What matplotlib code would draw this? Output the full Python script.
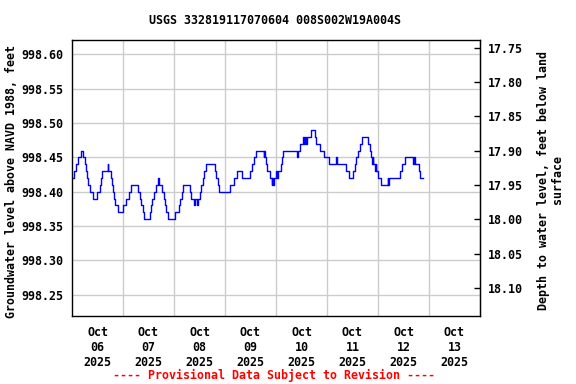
import matplotlib
matplotlib.use("Agg")
import matplotlib.pyplot as plt
import matplotlib.dates as mdates
import pandas as pd
import numpy as np

# ---- data: step change points (hours after 2025-10-06 00:00) and water level (ft NAVD88)
start = "2025-10-06 00:00"
hours = [0.0, 0.80, 2.07, 2.82, 4.33, 5.18, 6.21, 6.78, 7.25, 7.72, 8.66, 9.88,
         11.76, 13.04, 13.65, 14.31, 16.80, 17.13, 18.54, 19.01, 19.48, 19.95, 20.42, 21.5,
         24.0, 25.5, 26.9, 27.95, 31.06, 31.86, 32.66, 33.18, 33.74, 36.71, 37.18, 37.84,
         38.45, 39.39, 40.47, 40.80, 42.54, 43.15, 43.62, 44.33, 45.3, 48.33, 50.35, 50.92,
         51.62, 52.33, 55.39, 56.19, 57.51, 57.98, 59.01, 59.48, 60.09, 60.89, 61.65, 62.21,
         63.25, 67.15, 67.95, 68.71, 69.27, 74.21, 76.24, 77.65, 80.09, 83.86, 84.56, 85.51,
         86.68, 90.21, 90.54, 90.82, 91.39, 91.95, 93.04, 93.98, 94.31, 94.68, 95.25, 96.19,
         96.56, 97.03, 97.74, 98.21, 98.82, 99.29, 105.98, 106.35, 107.39, 108.56, 109.27,
         109.51, 110.21, 110.45, 112.66, 114.21, 114.92, 116.56, 118.45, 121.04, 124.42,
         124.89, 128.80, 130.35, 132.23, 133.04, 133.84, 134.59, 135.39, 136.66, 139.29,
         140.09, 140.89, 141.27, 141.51, 141.84, 142.45, 142.92, 143.15, 144.0, 145.6,
         148.56, 148.89, 149.27, 154.45, 155.39, 156.80, 160.47, 160.80, 161.27, 163.29,
         163.86, 165.18]
levels = [998.42, 998.43, 998.44, 998.45, 998.46, 998.45, 998.44, 998.43, 998.42, 998.41, 998.40, 998.39,
          998.40, 998.41, 998.42, 998.43, 998.44, 998.43, 998.42, 998.41, 998.40, 998.39, 998.38, 998.37,
          998.38, 998.39, 998.40, 998.41, 998.40, 998.39, 998.38, 998.37, 998.36, 998.37, 998.38, 998.39,
          998.40, 998.41, 998.42, 998.41, 998.40, 998.39, 998.38, 998.37, 998.36, 998.37, 998.38, 998.39,
          998.40, 998.41, 998.40, 998.39, 998.38, 998.39, 998.38, 998.39, 998.40, 998.41, 998.42, 998.43,
          998.44, 998.43, 998.42, 998.41, 998.40, 998.41, 998.42, 998.43, 998.42, 998.43, 998.44, 998.45,
          998.46, 998.45, 998.46, 998.45, 998.44, 998.43, 998.42, 998.41, 998.42, 998.41, 998.42, 998.43,
          998.42, 998.43, 998.43, 998.44, 998.45, 998.46, 998.45, 998.46, 998.47, 998.48, 998.47,
          998.48, 998.47, 998.48, 998.49, 998.48, 998.47, 998.46, 998.45, 998.44, 998.45,
          998.44, 998.43, 998.42, 998.43, 998.44, 998.45, 998.46, 998.47, 998.48, 998.47,
          998.46, 998.45, 998.44, 998.45, 998.44, 998.43, 998.44, 998.43, 998.42, 998.41,
          998.42, 998.41, 998.42, 998.43, 998.44, 998.45, 998.44, 998.45, 998.44, 998.43,
          998.42, 998.42]

left_ticks = [998.25, 998.30, 998.35, 998.40, 998.45, 998.50, 998.55, 998.60]
right_ticks = [17.75, 17.80, 17.85, 17.90, 17.95, 18.00, 18.05, 18.10]
day_labels = ["Oct\n06\n2025", "Oct\n07\n2025", "Oct\n08\n2025", "Oct\n09\n2025",
              "Oct\n10\n2025", "Oct\n11\n2025", "Oct\n12\n2025", "Oct\n13\n2025"]
land_surface = 1016.36

title = "USGS 332819117070604 008S002W19A004S"
ylabel_left = "Groundwater level above NAVD 1988, feet"
ylabel_right = "Depth to water level, feet below land\nsurface"
footer = "---- Provisional Data Subject to Revision ----"

FONT = "DejaVu Sans Mono"
FS = 8.4

t0 = pd.Timestamp(start)
times = [t0 + pd.Timedelta(hours=h) for h in hours]
tnum = mdates.date2num(times)

fig = plt.figure(figsize=(5.76, 3.84), dpi=100)
W, H = 576, 384
ax = fig.add_axes([72 / W, 1 - 316 / H, 408 / W, 276 / H])

ax.step(tnum, levels, where="post", color="#0000ff", lw=1.0)

xmin = mdates.date2num(t0)
xmax = mdates.date2num(t0 + pd.Timedelta(days=8))
ax.set_xlim(xmin, xmax)
ax.set_ylim(998.219, 998.621)

midnights = [mdates.date2num(t0 + pd.Timedelta(days=d)) for d in range(1, 8)]
noons = [mdates.date2num(t0 + pd.Timedelta(days=d, hours=12)) for d in range(8)]
ax.set_xticks(midnights)
ax.set_xticklabels([])
ax.set_xticks(noons, minor=True)
ax.set_xticklabels(day_labels, minor=True, fontfamily=FONT, fontweight="bold", fontsize=FS)
ax.tick_params(axis="x", which="both", length=0)
ax.tick_params(axis="x", which="minor", pad=7)

ax.set_yticks(left_ticks)
ax.set_yticklabels([f"{v:.2f}" for v in left_ticks], fontfamily=FONT, fontweight="bold", fontsize=FS)
ax.tick_params(axis="y", length=0, pad=6)

ax.grid(True, which="major", color="#cccccc", lw=1.0)
ax.set_axisbelow(True)
for s in ax.spines.values():
    s.set_linewidth(1.0)
    s.set_color("black")

sec = ax.secondary_yaxis("right", functions=(lambda y: land_surface - y, lambda d: land_surface - d))
sec.set_yticks(right_ticks)
sec.set_yticklabels([f"{v:.2f}" for v in right_ticks], fontfamily=FONT, fontweight="bold", fontsize=FS)
sec.tick_params(axis="y", direction="in", length=4, pad=6, width=1.0)

fig.text(275 / W, 1 - 20 / H, title, ha="center", va="center",
         fontfamily=FONT, fontweight="bold", fontsize=FS)
fig.text(12 / W, 1 - 182 / H, ylabel_left, ha="center", va="center", rotation=90,
         fontfamily=FONT, fontweight="bold", fontsize=FS)
fig.text(551 / W, 1 - 180 / H, ylabel_right, ha="center", va="center", rotation=90,
         multialignment="center", linespacing=1.1,
         fontfamily=FONT, fontweight="bold", fontsize=FS)
fig.text(274 / W, 1 - 375 / H, footer, ha="center", va="center", color="red",
         fontfamily=FONT, fontweight="bold", fontsize=FS)

fig.savefig("out.png", dpi=100)
